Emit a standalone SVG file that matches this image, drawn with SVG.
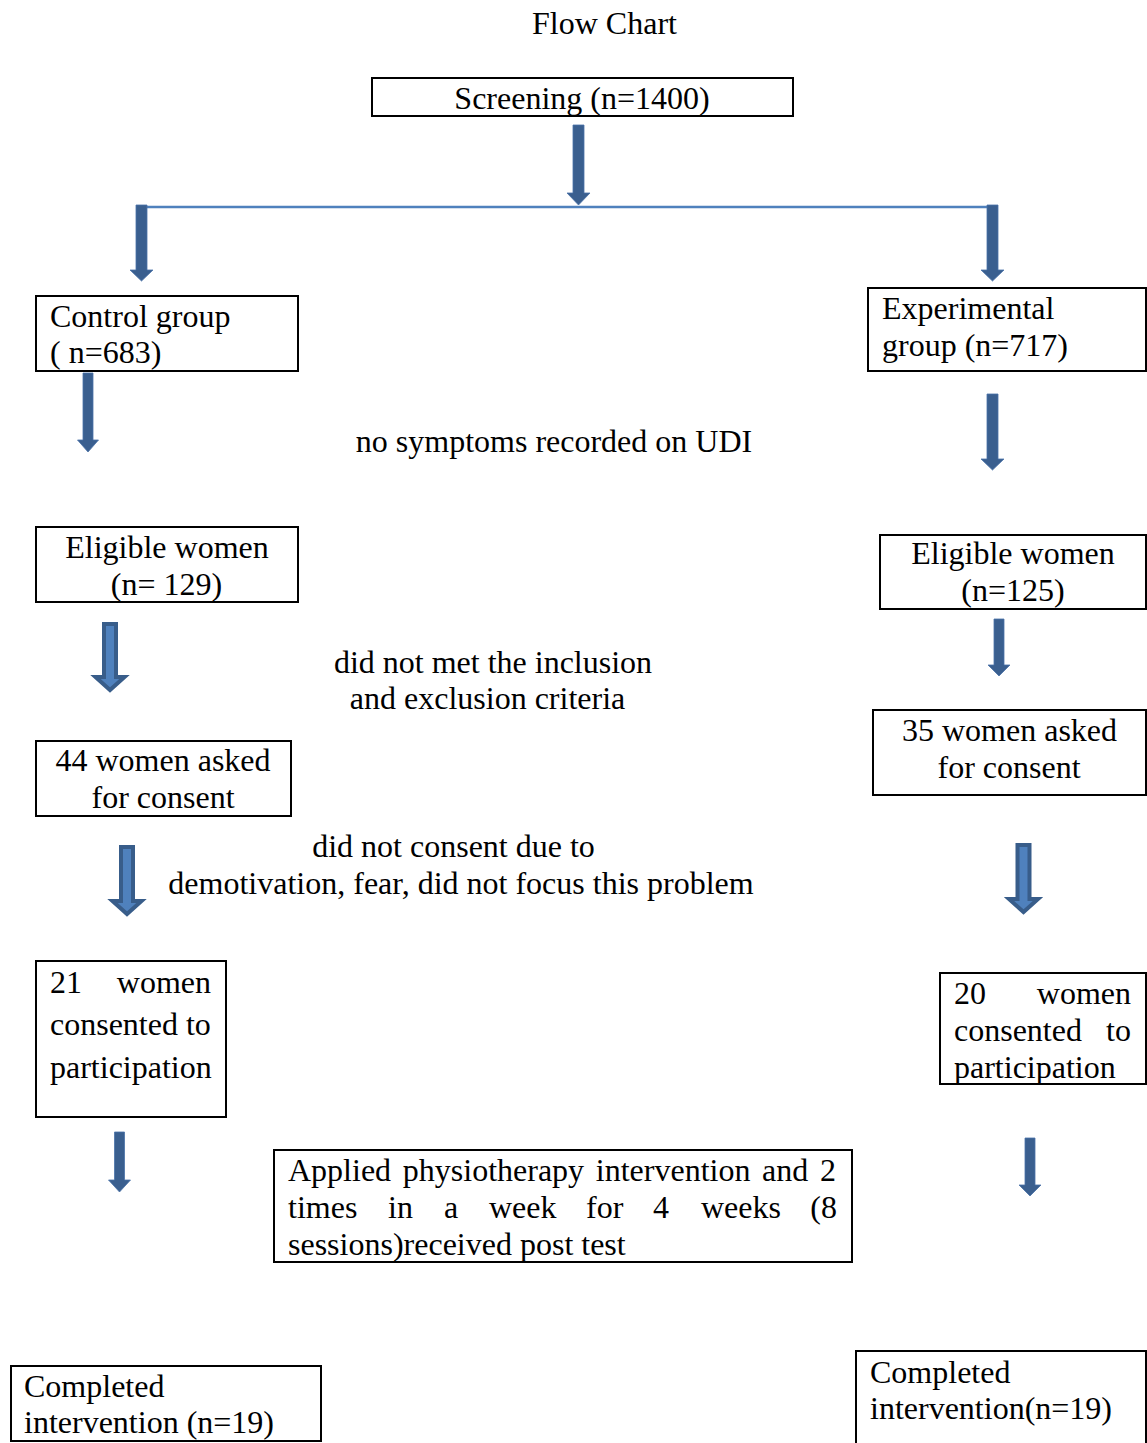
<svg xmlns="http://www.w3.org/2000/svg" width="1147" height="1443" viewBox="0 0 1147 1443">
<style>
text{font-family:"Liberation Serif","Times New Roman",serif;font-size:32px;fill:#000}
.m{text-anchor:middle}
.e{text-anchor:end}
.box{fill:#fff;stroke:#000;stroke-width:2}
.thin{fill:#3A5F8F;stroke:#4A72A8;stroke-width:0.8}
.thick{fill:#4F81BD;stroke:#385D8A;stroke-width:4;stroke-linejoin:miter}
</style>
<rect width="1147" height="1443" fill="#fff"/>
<text class="m" x="604.5" y="34">Flow Chart</text>
<g id="connectors">
<line x1="141" y1="207" x2="992" y2="207" stroke="#4F81BD" stroke-width="2.5"/>
<polygon class="thin" points="573,125 584,125 584,193 590,193 578.5,205 567,193 573,193"/>
<polygon class="thin" points="136,205 147,205 147,270 153,270 141.5,281 130,270 136,270"/>
<polygon class="thin" points="987,205 998,205 998,270 1004,270 992.5,281 981,270 987,270"/>
<polygon class="thin" points="83,373 93,373 93,440 98.5,440 88,452 77.5,440 83,440"/>
<polygon class="thin" points="987,394 998,394 998,459 1004,459 992.5,470 981,459 987,459"/>
<polygon class="thick" points="104,624 116,624 116,677 124.5,677 110,690 95.5,677 104,677"/>
<polygon class="thin" points="994,619 1004,619 1004,665 1010,665 999,676 988,665 994,665"/>
<polygon class="thick" points="121,847 133,847 133,901 141.5,901 127,914 112.5,901 121,901"/>
<polygon class="thick" points="1017.5,845 1029.5,845 1029.5,899 1038,899 1023.5,912 1009,899 1017.5,899"/>
<polygon class="thin" points="114.5,1132 124.5,1132 124.5,1180 130.5,1180 119.5,1192 108.5,1180 114.5,1180"/>
<polygon class="thin" points="1025,1138 1035,1138 1035,1185 1041,1185 1030,1196 1019,1185 1025,1185"/>
</g>
<g id="screening">
<rect class="box" x="372" y="78" width="421" height="38"/>
<text class="m" x="582" y="109">Screening (n=1400)</text>
</g>
<g id="control">
<rect class="box" x="36" y="296" width="262" height="75"/>
<text x="50" y="327">Control group</text>
<text x="50" y="363">( n=683)</text>
</g>
<g id="experimental">
<rect class="box" x="868" y="288" width="278" height="83"/>
<text x="882" y="319">Experimental</text>
<text x="882" y="356">group (n=717)</text>
</g>
<g id="label-udi">
<text class="m" x="554" y="452">no symptoms recorded on UDI</text>
</g>
<g id="eligible-left">
<rect class="box" x="36" y="527" width="262" height="75"/>
<text class="m" x="167" y="558">Eligible women</text>
<text class="m" x="166.5" y="595">(n= 129)</text>
</g>
<g id="eligible-right">
<rect class="box" x="880" y="535" width="266" height="74"/>
<text class="m" x="1013" y="564">Eligible women</text>
<text class="m" x="1013" y="601">(n=125)</text>
</g>
<g id="label-criteria">
<text class="m" x="493" y="673">did not met the inclusion</text>
<text class="m" x="487.5" y="709">and exclusion criteria</text>
</g>
<g id="asked-left">
<rect class="box" x="36" y="741" width="255" height="75"/>
<text class="m" x="163" y="771">44 women asked</text>
<text class="m" x="163" y="808">for consent</text>
</g>
<g id="asked-right">
<rect class="box" x="873" y="710" width="273" height="85"/>
<text class="m" x="1009.5" y="741">35 women asked</text>
<text class="m" x="1009" y="778">for consent</text>
</g>
<g id="label-consent">
<text class="m" x="453.5" y="857">did not consent due to</text>
<text class="m" x="461" y="894">demotivation, fear, did not focus this problem</text>
</g>
<g id="consented-left">
<rect class="box" x="36" y="961" width="190" height="156"/>
<text x="50" y="993">21</text>
<text class="e" x="211" y="993">women</text>
<text x="50" y="1035">consented to</text>
<text x="50" y="1078">participation</text>
</g>
<g id="consented-right">
<rect class="box" x="940" y="973" width="206" height="111"/>
<text x="954" y="1004">20</text>
<text class="e" x="1131" y="1004">women</text>
<text x="954" y="1041">consented</text>
<text class="e" x="1131" y="1041">to</text>
<text x="954" y="1078">participation</text>
</g>
<g id="intervention">
<rect class="box" x="274" y="1150" width="578" height="112"/>
<text x="288" y="1181" word-spacing="3.7">Applied physiotherapy intervention and 2</text>
<text x="288" y="1218">times</text>
<text x="388" y="1218">in</text>
<text x="444" y="1218">a</text>
<text x="489" y="1218">week</text>
<text x="586" y="1218">for</text>
<text x="653" y="1218">4</text>
<text x="701" y="1218">weeks</text>
<text class="e" x="837" y="1218">(8</text>
<text x="288" y="1255">sessions)received post test</text>
</g>
<g id="completed-left">
<rect class="box" x="11" y="1366" width="310" height="75"/>
<text x="24" y="1397">Completed</text>
<text x="24" y="1433">intervention (n=19)</text>
</g>
<g id="completed-right">
<rect class="box" x="856" y="1351" width="290" height="110"/>
<text x="870" y="1383">Completed</text>
<text x="870" y="1419">intervention(n=19)</text>
</g>
</svg>
